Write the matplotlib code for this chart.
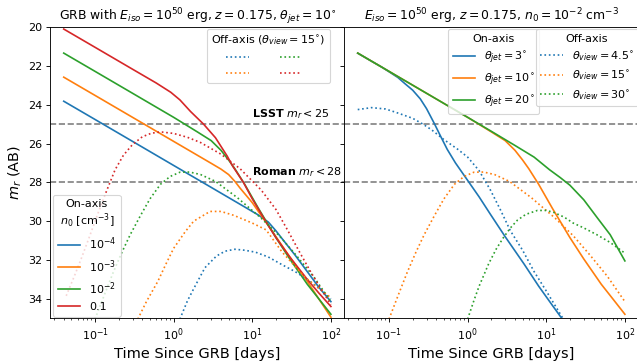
import matplotlib.pyplot as plt

# ---- left panel: theta_jet = 10 deg, different densities ----
n0_labels = [r'$10^{-4}$', r'$10^{-3}$', r'$10^{-2}$', '0.1']

# on-axis (solid)
on_t_n4 = [0.04, 0.1, 0.3, 1, 3, 8, 12, 16, 20, 25, 35, 50, 70, 100]
on_m_n4 = [23.82, 24.76, 25.89, 27.13, 28.26, 29.27, 29.69, 30.05, 30.5, 31.0, 31.75, 32.6, 33.4, 34.15]

on_t_n3 = [0.04, 0.1, 0.3, 1, 3, 4, 5, 6, 7, 10, 14, 20, 30, 50, 70, 100]
on_m_n3 = [22.58, 23.52, 24.65, 25.89, 27.02, 27.32, 27.6, 27.95, 28.3, 29.05, 29.9, 30.8, 31.85, 33.1, 34.0, 34.95]

# n0 = 1e-2, theta_jet = 10 deg (also used in the right panel)
on_t_n2 = [0.04, 0.1, 0.3, 1, 2, 3, 4, 5, 6, 8, 12, 20, 30, 50, 70, 100]
on_m_n2 = [21.34, 22.28, 23.41, 24.65, 25.4, 25.85, 26.35, 26.85, 27.3, 28.1, 29.35, 30.85, 31.95, 33.25, 34.0, 34.8]

on_t_n1 = [0.04, 0.1, 0.3, 0.6, 0.92, 1.2, 1.64, 2.4, 3.4, 4.8, 5.6, 7.7, 10, 15, 20, 30, 50, 70, 100]
on_m_n1 = [20.1, 21.04, 22.17, 22.88, 23.36, 23.75, 24.35, 25.0, 25.7, 26.65, 27.15, 28.0, 28.85, 30.05, 30.85,
           31.85, 33.0, 33.7, 34.4]

# off-axis, theta_view = 15 deg (dotted)
off_t_n4 = [1.2, 1.5, 1.9, 2.5, 3.5, 4.5, 6, 8, 11, 16, 24, 35, 50, 70, 100]
off_m_n4 = [35.05, 34.1, 33.3, 32.4, 31.8, 31.55, 31.45, 31.5, 31.6, 31.85, 32.25, 32.6, 33.0, 33.45, 34.0]

off_t_n3 = [0.35, 0.45, 0.63, 0.8, 1.0, 1.4, 1.8, 2.9, 4, 5.8, 10, 15, 24, 47, 100]
off_m_n3 = [35.05, 34.15, 33.1, 32.2, 31.4, 30.55, 30.0, 29.5, 29.5, 29.7, 30.1, 30.45, 31.6, 32.9, 33.95]

off_t_n2 = [0.1, 0.13, 0.17, 0.22, 0.28, 0.38, 0.5, 0.68, 0.9, 1.2, 1.6, 2.2, 3.4, 6.5, 13, 22, 36, 60, 100]
off_m_n2 = [35.05, 33.85, 32.65, 31.6, 30.7, 29.7, 28.85, 28.1, 27.7, 27.48, 27.47, 27.6, 27.95, 28.8, 29.85, 30.75,
            31.75, 32.85, 34.15]

off_t_n1 = [0.043, 0.055, 0.068, 0.085, 0.11, 0.14, 0.18, 0.23, 0.3, 0.4, 0.52, 0.68, 1.0, 1.5, 2.2, 4,
            7, 13, 20, 28, 40, 55, 75, 100]
off_m_n1 = [33.85, 32.8, 31.85, 30.8, 29.55, 28.45, 27.35, 26.6, 26.05, 25.65, 25.47, 25.4, 25.48, 25.68, 25.95, 26.55,
            27.3, 28.4, 29.4, 30.45, 31.6, 32.6, 33.5, 34.3]

# ---- right panel: n0 = 1e-2, different jet angles ----
jet_labels = [r'$\theta_{jet} = 3^{\circ}$', r'$\theta_{jet} = 10^{\circ}$', r'$\theta_{jet} = 20^{\circ}$']
view_labels = [r'$\theta_{view} = 4.5^{\circ}$', r'$\theta_{view} = 15^{\circ}$', r'$\theta_{view} = 30^{\circ}$']

on_t_j3 = [0.04, 0.06, 0.08, 0.1, 0.13, 0.16, 0.2, 0.25, 0.3, 0.375, 0.45, 0.55, 0.7, 1.0, 1.4, 1.95, 3.0, 5.2,
           8, 12, 16]
on_m_j3 = [21.34, 21.76, 22.05, 22.3, 22.6, 22.92, 23.25, 23.7, 24.2, 24.95, 25.6, 26.3, 27.0, 27.9, 28.75, 29.65,
           30.8, 32.2, 33.35, 34.35, 35.05]

on_t_j20 = [0.04, 0.1, 0.3, 1, 2, 4, 7, 11, 15, 20, 30, 45, 65, 100]
on_m_j20 = [21.34, 22.28, 23.41, 24.65, 25.37, 26.1, 26.7, 27.35, 27.75, 28.15, 28.9, 29.85, 30.7, 32.05]

off_t_v45 = [0.04, 0.06, 0.09, 0.12, 0.2, 0.27, 0.35, 0.5, 0.75, 1.0, 1.4, 1.95, 2.6, 3.5, 5, 7, 10, 16.5]
off_m_v45 = [24.25, 24.15, 24.22, 24.38, 24.7, 25.0, 25.3, 25.8, 26.3, 26.7, 27.4, 28.4, 29.4, 30.5, 31.5, 32.6,
             33.6, 35.05]

off_t_v30 = [1.0, 1.2, 1.4, 1.85, 2.3, 2.85, 3.5, 4.3, 5.5, 7.7, 10, 12.5, 17, 22, 30, 44, 65, 100]
off_m_v30 = [35.05, 34.1, 33.35, 32.2, 31.45, 30.85, 30.35, 29.95, 29.65, 29.45, 29.45, 29.55, 29.8, 30.1, 30.35,
             30.7, 31.1, 31.65]

colors = ['C0', 'C1', 'C2', 'C3']


def main():
    # drawn at 80 dpi so the default font sizes come out as in the reference
    fig = plt.figure(figsize=(637 / 80, 364 / 80), dpi=80)
    ax1 = fig.add_axes([0.079, 0.126, 0.4615, 0.7995])
    ax2 = fig.add_axes([0.5405, 0.126, 0.4615, 0.7995], sharey=ax1)

    # left panel
    on_sets = [(on_t_n4, on_m_n4), (on_t_n3, on_m_n3), (on_t_n2, on_m_n2), (on_t_n1, on_m_n1)]
    off_sets = [(off_t_n4, off_m_n4), (off_t_n3, off_m_n3), (off_t_n2, off_m_n2), (off_t_n1, off_m_n1)]
    on_lines = []
    off_lines = []
    for (t, m), c in zip(on_sets, colors):
        ln, = ax1.plot(t, m, color=c, lw=1.5)
        on_lines.append(ln)
    for (t, m), c in zip(off_sets, colors):
        ln, = ax1.plot(t, m, color=c, lw=1.5, ls=':')
        off_lines.append(ln)

    leg1 = ax1.legend(on_lines, n0_labels, title='On-axis\n$n_0$ [cm$^{-3}$]', loc='lower left',
                      bbox_to_anchor=(0.01, 0.005), borderaxespad=0)
    leg1.get_title().set_multialignment('center')
    ax1.add_artist(leg1)
    ax1.legend(off_lines, ['', '', '', ''], title=r'Off-axis ($\theta_{view} = 15^{\circ}$)', ncol=2,
               loc='upper right', bbox_to_anchor=(0.952, 0.993), borderaxespad=0)

    # right panel
    r_on = [(on_t_j3, on_m_j3), (on_t_n2, on_m_n2), (on_t_j20, on_m_j20)]
    r_off = [(off_t_v45, off_m_v45), (off_t_n2, off_m_n2), (off_t_v30, off_m_v30)]
    r_on_lines = []
    r_off_lines = []
    for (t, m), c in zip(r_on, colors):
        ln, = ax2.plot(t, m, color=c, lw=1.5)
        r_on_lines.append(ln)
    for (t, m), c in zip(r_off, colors):
        ln, = ax2.plot(t, m, color=c, lw=1.5, ls=':')
        r_off_lines.append(ln)

    leg2 = ax2.legend(r_on_lines, jet_labels, title='On-axis', loc='upper left',
                      bbox_to_anchor=(0.353, 0.993), borderaxespad=0)
    ax2.add_artist(leg2)
    ax2.legend(r_off_lines, view_labels, title='Off-axis', loc='upper left',
               bbox_to_anchor=(0.652, 0.993), borderaxespad=0)

    # survey limits
    for ax in (ax1, ax2):
        ax.axhline(25, color='gray', ls='--', lw=1.5, zorder=0)
        ax.axhline(28, color='gray', ls='--', lw=1.5, zorder=0)
        ax.set_xscale('log')
        ax.set_xlim(0.027, 148)
        ax.set_xlabel('Time Since GRB [days]', fontsize=13)
    ax1.text(10, 24.85, r'$\bf{LSST}$ $m_r < 25$', fontsize=10, va='bottom')
    ax1.text(10, 27.85, r'$\bf{Roman}$ $m_r < 28$', fontsize=10, va='bottom')

    ax1.set_ylim(35, 20)
    ax1.set_yticks([20, 22, 24, 26, 28, 30, 32, 34])
    ax2.tick_params(labelleft=False)
    ax1.set_ylabel('$m_r$ (AB)', fontsize=13)

    ax1.set_title(r'GRB with $E_{iso} = 10^{50}$ erg, $z = 0.175$, $\theta_{jet} = 10^{\circ}$', fontsize=11.2)
    ax2.set_title(r'$E_{iso} = 10^{50}$ erg, $z = 0.175$, $n_0 = 10^{-2}$ cm$^{-3}$', fontsize=11.2)

    fig.savefig('out.png', dpi=80)


if __name__ == '__main__':
    main()
